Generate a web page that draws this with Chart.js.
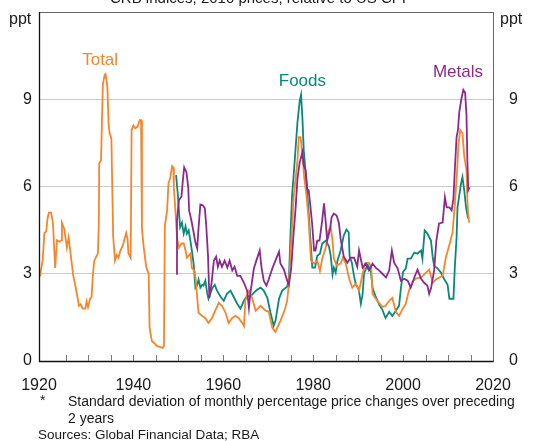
<!DOCTYPE html>
<html>
<head>
<meta charset="utf-8">
<script src="https://cdn.jsdelivr.net/npm/chart.js@4"></script>
<style>
    html, body { margin: 0; padding: 0; background: #fff; }
    #wrap { width: 544px; height: 441px; }
</style>
</head>
<body>
<div id="wrap"><canvas id="chart" width="544" height="441"></canvas></div>
<script>
// data: [year, ppt]
const totalSeries = [[1919.2,2.9],[1919.8,3.45],[1920.2,4.4],[1920.6,4.45],[1920.9,4.9],[1921.2,5.1],[1921.7,5.1],[1922.1,4.75],[1922.4,3.8],[1922.6,3.2],[1923.0,4.15],[1923.5,4.1],[1923.9,4.15],[1924.1,4.75],[1924.6,4.55],[1925.2,3.9],[1925.6,4.25],[1926.1,3.6],[1926.6,2.95],[1927.2,2.5],[1927.9,1.9],[1928.3,1.95],[1928.7,1.8],[1929.3,1.8],[1929.6,2.05],[1929.9,1.85],[1930.4,2.15],[1930.7,2.2],[1931.0,3.0],[1931.3,3.45],[1932.1,3.7],[1932.3,4.65],[1932.4,6.8],[1932.8,6.9],[1933.2,9.5],[1933.6,9.84],[1933.8,9.87],[1934.2,9.45],[1934.5,8.1],[1934.7,7.85],[1935.1,7.65],[1935.5,4.3],[1935.9,3.45],[1936.3,3.65],[1936.7,3.55],[1937.1,3.8],[1937.6,3.95],[1938.4,4.4],[1938.7,4.2],[1938.9,3.7],[1939.4,3.55],[1939.6,7.95],[1940.0,8.1],[1940.4,8.0],[1940.9,8.05],[1941.4,8.28],[1941.7,8.28],[1941.9,4.55],[1942.3,3.9],[1942.9,3.2],[1943.4,3.0],[1943.6,1.15],[1944.1,0.69],[1944.6,0.62],[1945.2,0.52],[1946.0,0.48],[1946.5,0.45],[1946.8,0.52],[1947.0,4.65],[1947.5,5.18],[1947.8,6.1],[1948.2,6.3],[1948.6,6.7],[1948.9,6.65],[1949.0,5.97],[1949.3,5.28],[1949.7,4.25],[1950.1,3.9],[1950.7,4.04],[1951.2,4.04],[1951.6,3.8],[1951.9,3.55],[1952.7,3.7],[1953.0,3.2],[1953.6,3.1],[1953.9,2.76],[1954.2,2.17],[1954.5,1.66],[1955.3,1.55],[1956.0,1.48],[1956.7,1.31],[1957.5,1.48],[1958.2,1.73],[1959.0,2.0],[1959.7,1.9],[1960.5,1.66],[1961.2,1.31],[1962.0,1.48],[1962.7,1.55],[1963.4,1.48],[1964.2,1.31],[1964.6,1.2],[1964.9,2.07],[1965.7,2.42],[1966.4,2.17],[1967.2,1.73],[1968.3,1.9],[1969.4,1.73],[1970.1,1.7],[1970.9,1.14],[1971.6,1.0],[1972.7,1.38],[1973.6,1.73],[1974.2,2.07],[1974.6,2.66],[1975.0,3.8],[1975.7,5.7],[1976.5,6.9],[1976.8,7.7],[1977.2,7.7],[1977.6,7.08],[1978.0,6.3],[1978.5,5.7],[1979.0,4.83],[1979.5,3.45],[1980.2,3.35],[1980.9,3.45],[1981.5,3.1],[1982.0,3.52],[1982.8,3.9],[1983.4,4.49],[1983.9,4.6],[1984.3,4.14],[1984.6,3.52],[1985.2,3.28],[1986.1,3.35],[1986.6,3.55],[1987.2,3.38],[1988.0,2.83],[1988.7,2.52],[1989.5,2.66],[1990.2,2.42],[1991.0,3.0],[1991.5,3.35],[1992.4,3.38],[1992.9,3.24],[1993.2,2.31],[1994.1,2.1],[1995.4,1.86],[1996.1,1.9],[1996.9,2.07],[1997.6,2.17],[1998.4,1.69],[1999.1,1.55],[1999.9,1.79],[2000.6,1.97],[2001.3,2.42],[2002.1,2.73],[2002.8,2.83],[2004.0,2.87],[2005.1,3.04],[2005.8,3.14],[2006.6,2.69],[2007.3,2.8],[2008.8,2.93],[2009.5,3.55],[2010.3,4.0],[2011.0,4.42],[2011.5,5.35],[2012.0,6.49],[2012.3,7.42],[2012.7,7.94],[2013.2,7.84],[2013.6,7.04],[2014.1,6.56],[2014.3,5.52],[2014.5,5.0],[2014.7,4.76]];

const foodsSeries = [[1949.5,6.39],[1949.9,5.7],[1950.2,5.0],[1950.4,4.6],[1950.8,4.76],[1951.2,4.38],[1951.6,4.63],[1951.9,4.38],[1952.3,4.49],[1952.7,4.11],[1953.0,3.8],[1953.4,3.35],[1953.8,2.52],[1954.2,2.62],[1954.5,2.8],[1954.9,2.52],[1955.3,2.62],[1955.6,2.59],[1956.0,2.76],[1956.4,2.35],[1956.7,2.14],[1957.5,2.49],[1958.1,2.62],[1958.6,2.42],[1959.4,2.21],[1960.1,2.07],[1960.8,2.31],[1961.6,2.42],[1962.3,2.21],[1963.1,1.97],[1963.8,1.8],[1964.6,2.07],[1965.3,2.24],[1966.0,2.21],[1966.8,2.35],[1967.5,2.45],[1968.3,2.52],[1969.0,2.42],[1969.8,2.17],[1970.5,1.66],[1971.2,1.21],[1971.6,1.38],[1972.4,2.14],[1973.1,2.42],[1974.2,2.55],[1974.6,2.87],[1975.0,4.56],[1975.3,5.7],[1975.7,6.49],[1976.1,7.35],[1976.5,8.21],[1977.0,8.94],[1977.3,9.15],[1977.6,8.35],[1977.9,7.25],[1978.4,6.32],[1979.0,5.07],[1979.4,4.14],[1979.8,3.21],[1980.4,3.21],[1980.9,3.62],[1981.5,3.69],[1982.0,4.04],[1982.8,4.14],[1983.5,3.94],[1983.9,3.62],[1984.3,2.97],[1984.6,3.21],[1985.0,3.04],[1985.4,3.45],[1986.1,3.8],[1986.8,4.31],[1987.4,4.52],[1987.9,4.42],[1988.1,3.59],[1988.6,3.38],[1989.1,2.9],[1989.5,2.62],[1990.1,2.49],[1990.6,1.97],[1991.0,2.31],[1991.3,3.0],[1992.1,3.31],[1992.8,3.11],[1993.2,2.52],[1993.9,2.21],[1994.7,1.93],[1995.4,1.76],[1996.1,1.48],[1996.9,1.69],[1997.6,1.55],[1998.4,1.73],[1999.1,1.9],[1999.5,2.49],[2000.0,3.07],[2000.6,3.18],[2001.0,3.52],[2001.7,3.52],[2002.5,3.73],[2003.2,3.69],[2004.0,3.8],[2004.3,3.52],[2004.8,4.49],[2005.4,4.38],[2006.2,4.14],[2006.6,3.55],[2006.9,3.28],[2007.7,3.18],[2008.4,3.04],[2009.1,2.83],[2009.9,2.62],[2010.3,2.14],[2011.2,2.14],[2011.5,3.21],[2011.9,4.25],[2012.1,5.28],[2012.5,5.7],[2012.9,6.11],[2013.2,6.32],[2013.6,5.87],[2014.0,5.28],[2014.4,4.94],[2014.7,4.97]];

const metalsSeries = [[1949.5,3.0],[1949.7,4.83],[1950.1,5.52],[1950.7,5.66],[1951.0,6.21],[1951.3,6.66],[1951.8,6.49],[1952.2,5.97],[1952.4,5.18],[1952.9,4.83],[1953.4,4.42],[1953.8,4.07],[1954.2,3.87],[1954.5,4.59],[1954.9,5.38],[1955.5,5.35],[1955.9,5.25],[1956.2,4.66],[1956.6,3.62],[1956.9,2.17],[1957.4,2.69],[1957.9,3.45],[1958.4,3.59],[1958.8,3.24],[1959.2,3.45],[1959.7,3.24],[1960.3,3.45],[1960.9,3.21],[1961.4,3.45],[1962.0,3.11],[1962.5,3.24],[1963.1,2.93],[1963.8,2.93],[1964.6,2.69],[1965.3,2.42],[1965.7,1.83],[1966.0,2.31],[1966.8,3.18],[1967.5,3.52],[1968.1,3.8],[1968.5,3.21],[1969.0,2.76],[1969.6,2.59],[1970.1,2.8],[1970.9,3.18],[1971.6,3.45],[1972.4,3.76],[1972.7,3.35],[1973.5,3.14],[1974.2,2.76],[1974.6,2.62],[1975.1,3.18],[1975.6,4.31],[1976.1,5.28],[1976.5,6.28],[1977.0,6.83],[1977.6,7.18],[1977.9,6.73],[1978.3,6.56],[1978.7,5.9],[1979.0,5.87],[1979.4,5.28],[1979.8,4.66],[1980.2,3.8],[1980.5,3.8],[1980.9,4.14],[1981.4,4.14],[1982.0,4.83],[1982.4,5.42],[1982.8,4.76],[1983.1,4.14],[1983.7,4.49],[1984.1,4.94],[1984.6,5.07],[1985.2,5.0],[1985.7,4.76],[1986.1,4.21],[1986.8,3.59],[1987.6,3.38],[1988.3,3.55],[1989.1,3.55],[1989.8,3.24],[1990.2,3.8],[1991.0,3.21],[1991.7,3.35],[1992.4,3.11],[1993.2,3.35],[1993.9,3.21],[1994.7,3.11],[1995.4,3.0],[1996.2,2.87],[1996.9,3.11],[1997.5,3.8],[1998.0,3.38],[1998.8,3.18],[1999.5,2.76],[2000.3,2.83],[2001.0,2.76],[2001.7,2.52],[2002.5,2.87],[2003.2,3.14],[2004.0,2.83],[2004.7,2.69],[2005.4,2.59],[2005.8,2.31],[2006.2,2.49],[2006.9,3.11],[2007.4,4.14],[2008.0,4.73],[2008.8,4.76],[2009.3,5.63],[2009.7,5.28],[2010.3,5.28],[2010.8,5.18],[2011.2,5.59],[2011.5,6.56],[2011.9,7.7],[2012.2,7.94],[2012.5,8.56],[2013.0,9.04],[2013.4,9.32],[2013.8,9.22],[2014.1,8.46],[2014.3,6.9],[2014.5,5.87],[2014.8,5.97]];

// axes
const xMin = 1919, xMax = 2020;
const xTickValues = [1919, 1940, 1960, 1980, 2000, 2020];
const xTickLabels = ['1920', '1940', '1960', '1980', '2000', '2020'];
const xMinorTicks = [1925, 1930, 1935, 1940, 1945, 1950, 1955, 1960, 1965, 1970, 1975, 1980, 1985, 1990, 1995, 2000, 2005, 2010, 2015];
const yTickValues = [0, 3, 6, 9, 12];
const yTickLabels = ['0', '3', '6', '9', ''];

// series labels placed in data units
const seriesLabels = [
    { text: 'Total', x: 1932.6, y: 10.35, color: '#F4862F' },
    { text: 'Foods', x: 1977.6, y: 9.6, color: '#0A8878' },
    { text: 'Metals', x: 2012.2, y: 9.94, color: '#8A2A8C' }
];

const titleText = 'CRB indices, 2010 prices, relative to US CPI';
const footnoteLines = [
    'Standard deviation of monthly percentage price changes over preceding',
    '2 years'
];
const sourcesText = 'Sources: Global Financial Data; RBA';

const FONT = '"Liberation Sans", Arial, sans-serif';

function toPoints(series) {
    return series.map(p => ({ x: p[0], y: p[1] }));
}

// 枠・目盛り・注記の描画
const decorPlugin = {
    id: 'decor',
    afterDatasetsDraw(chart) {
        const { ctx, chartArea: a, scales } = chart;
        ctx.save();
        ctx.strokeStyle = '#666';
        ctx.lineWidth = 1;
        ctx.strokeRect(a.left + 0.5, a.top + 0.5, a.right - a.left, a.bottom - a.top);
        ctx.strokeStyle = '#111';
        ctx.lineWidth = 1.3;
        ctx.beginPath();
        ctx.moveTo(a.left + 0.5, a.top);
        ctx.lineTo(a.left + 0.5, a.bottom + 0.5);
        ctx.lineTo(a.right + 0.5, a.bottom + 0.5);
        ctx.stroke();
        // 内向きの小目盛り
        ctx.strokeStyle = '#777';
        ctx.lineWidth = 1;
        ctx.beginPath();
        xMinorTicks.forEach(v => {
            const x = Math.round(scales.x.getPixelForValue(v)) + 0.5;
            ctx.moveTo(x, a.bottom);
            ctx.lineTo(x, a.bottom - 6);
        });
        ctx.stroke();
        ctx.restore();
    },
    afterDraw(chart) {
        const { ctx, scales } = chart;
        ctx.save();
        ctx.fillStyle = '#1a1a1a';
        ctx.font = '15px ' + FONT;
        ctx.textAlign = 'center';
        ctx.textBaseline = 'alphabetic';
        ctx.fillText(titleText, 258, 3);

        ctx.font = '16px ' + FONT;
        ctx.textAlign = 'left';
        ctx.fillText('ppt', 9, 24);
        ctx.fillText('ppt', 500, 24);

        seriesLabels.forEach(l => {
            ctx.fillStyle = l.color;
            ctx.font = '17px ' + FONT;
            ctx.textAlign = 'center';
            ctx.textBaseline = 'middle';
            ctx.fillText(l.text, scales.x.getPixelForValue(l.x), scales.y.getPixelForValue(l.y));
        });

        ctx.fillStyle = '#1a1a1a';
        ctx.textAlign = 'left';
        ctx.textBaseline = 'middle';
        ctx.font = '14px ' + FONT;
        ctx.fillText('*', 40, 401);
        ctx.fillText(footnoteLines[0], 68, 402);
        ctx.fillText(footnoteLines[1], 68, 419);
        ctx.font = '13.5px ' + FONT;
        ctx.fillText(sourcesText, 38, 435);
        ctx.restore();
    }
};

function yTicks(scale) {
    scale.ticks = yTickValues.map(v => ({ value: v }));
}

function fitY(width) {
    return s => {
        s.width = width;
        s.paddingTop = 0;
        s.paddingBottom = 0;
    };
}

function initChart() {
    const canvas = document.getElementById('chart');
    new Chart(canvas, {
        type: 'line',
        data: {
            datasets: [
                { label: 'Metals', data: toPoints(metalsSeries), borderColor: '#8A2A8C', order: 1 },
                { label: 'Total', data: toPoints(totalSeries), borderColor: '#F4862F', order: 2 },
                { label: 'Foods', data: toPoints(foodsSeries), borderColor: '#0A8878', order: 3 }
            ]
        },
        options: {
            responsive: false,
            devicePixelRatio: 1,
            animation: false,
            layout: { padding: { top: 12, left: 0, right: 0, bottom: 0 } },
            elements: {
                point: { radius: 0 },
                line: { borderWidth: 1.8, tension: 0, fill: false }
            },
            plugins: { legend: { display: false }, tooltip: { enabled: false } },
            scales: {
                x: {
                    type: 'linear',
                    min: xMin,
                    max: xMax,
                    grid: { display: false },
                    border: { display: false },
                    afterBuildTicks: s => { s.ticks = xTickValues.map(v => ({ value: v })); },
                    afterFit: s => {
                        s.height = 80;
                        s.paddingLeft = 0;
                        s.paddingRight = 0;
                    },
                    ticks: {
                        autoSkip: false,
                        maxRotation: 0,
                        padding: 7,
                        color: '#1a1a1a',
                        font: { size: 16, family: FONT },
                        callback: v => xTickLabels[xTickValues.indexOf(v)]
                    }
                },
                y: {
                    position: 'left',
                    min: 0,
                    max: 12,
                    border: { display: false },
                    grid: {
                        drawTicks: false,
                        lineWidth: 1,
                        color: c => (c.tick && c.tick.value > 0 && c.tick.value < 12) ? '#cbcbcb' : 'rgba(0,0,0,0)'
                    },
                    afterBuildTicks: yTicks,
                    afterFit: fitY(39),
                    ticks: {
                        padding: 7,
                        color: '#1a1a1a',
                        font: { size: 16, family: FONT },
                        callback: v => yTickLabels[yTickValues.indexOf(v)]
                    }
                },
                y2: {
                    position: 'right',
                    min: 0,
                    max: 12,
                    border: { display: false },
                    grid: { display: false },
                    afterBuildTicks: yTicks,
                    afterFit: fitY(51),
                    ticks: {
                        padding: 8,
                        color: '#1a1a1a',
                        font: { size: 16, family: FONT },
                        callback: v => yTickLabels[yTickValues.indexOf(v)]
                    }
                }
            }
        },
        plugins: [decorPlugin]
    });
}

document.addEventListener('DOMContentLoaded', initChart);
</script>
</body>
</html>
